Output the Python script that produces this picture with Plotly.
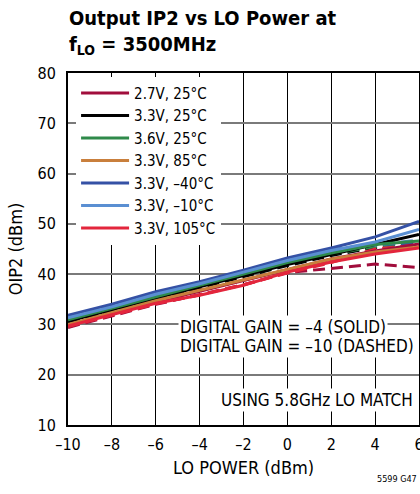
import plotly.graph_objects as go

# LO power (dBm)
lo_power = [-10, -8, -6, -4, -2, 0, 2, 4, 6]

# legend labels and colours, in legend order
labels = ["2.7V, 25°C", "3.3V, 25°C", "3.6V, 25°C", "3.3V, 85°C",
          "3.3V, –40°C", "3.3V, –10°C", "3.3V, 105°C"]
colors = ["#a10d3c", "#000000", "#2f8a4a", "#c97f3c",
          "#3551a5", "#5a8fd2", "#e3263c"]

# OIP2 (dBm), digital gain = -4 (solid)
oip2_solid = [
    [29.9, 32.2, 34.5, 36.6, 38.7, 40.9, 43.0, 44.6, 46.0],
    [30.6, 32.9, 35.3, 37.5, 39.7, 41.9, 43.9, 45.9, 47.9],
    [30.9, 33.2, 35.6, 37.8, 40.0, 42.3, 44.2, 45.9, 46.6],
    [30.0, 32.3, 34.7, 36.8, 38.9, 41.0, 43.0, 44.4, 45.4],
    [31.8, 34.0, 36.5, 38.5, 40.8, 43.2, 45.2, 47.4, 50.5],
    [31.3, 33.5, 36.0, 38.1, 40.4, 42.7, 44.7, 46.4, 48.9],
    [29.7, 32.0, 34.2, 35.8, 37.8, 40.4, 42.4, 44.0, 45.2],
]

# OIP2 (dBm), digital gain = -10 (dashed)
oip2_dashed = [
    [29.4, 31.7, 34.0, 35.9, 37.9, 40.3, 41.2, 42.0, 41.3],
    [30.5, 32.8, 35.1, 37.3, 39.5, 41.7, 43.7, 45.3, 46.5],
    [30.8, 33.1, 35.5, 37.7, 39.9, 42.1, 44.0, 45.5, 46.3],
    [29.9, 32.2, 34.6, 36.7, 38.8, 40.9, 42.8, 44.2, 45.6],
    [31.6, 33.8, 36.3, 38.3, 40.5, 42.9, 44.9, 45.9, 46.2],
    [31.2, 33.4, 35.8, 38.0, 40.2, 42.5, 44.4, 45.8, 46.8],
    [29.6, 31.9, 34.1, 35.9, 37.9, 40.2, 42.3, 45.0, 45.8],
]

x_ticks = [-10, -8, -6, -4, -2, 0, 2, 4, 6]
x_ticktext = ["–10", "–8", "–6", "–4", "–2", "0", "2", "4", "6"]
y_ticks = [10, 20, 30, 40, 50, 60, 70, 80]

FONT = "DejaVu Sans Condensed, Liberation Sans Narrow, sans-serif"

fig = go.Figure()

for i in range(len(labels)):
    fig.add_trace(go.Scatter(x=lo_power, y=oip2_dashed[i], mode="lines",
                             line=dict(color=colors[i], width=3, dash="12px,6px"),
                             legendgroup=labels[i], showlegend=False))
for i in range(len(labels)):
    fig.add_trace(go.Scatter(x=lo_power, y=oip2_solid[i], mode="lines", name=labels[i],
                             line=dict(color=colors[i], width=3),
                             legendgroup=labels[i]))

fig.update_layout(
    width=420, height=494,
    margin=dict(l=68, r=1, t=73, b=69),
    paper_bgcolor="white", plot_bgcolor="white",
    font=dict(family=FONT, size=15, color="black"),
    showlegend=True,
    legend=dict(x=0.023, y=0.989, xanchor="left", yanchor="top",
                bgcolor="white", borderwidth=0, font=dict(size=15),
                itemwidth=48, traceorder="normal"),
)

fig.update_xaxes(range=[-10, 6], tickvals=x_ticks, ticktext=x_ticktext,
                 tickfont=dict(size=16), ticklabeloverflow="allow",
                 showgrid=True, gridcolor="black", gridwidth=1,
                 showline=True, linecolor="black", linewidth=2, mirror=True,
                 zeroline=False, ticks="", ticklabelstandoff=4, automargin=False,
                 title=dict(text="LO POWER (dBm)", standoff=8))
fig.update_yaxes(range=[10, 80], tickvals=y_ticks,
                 tickfont=dict(size=16),
                 showgrid=True, gridcolor="#7a7a7a", gridwidth=2,
                 showline=True, linecolor="black", linewidth=2, mirror=True,
                 zeroline=False, ticks="", ticklabelstandoff=7, automargin=False,
                 title=dict(text="OIP2 (dBm)", standoff=10))

fig.add_annotation(text="<b>Output IP2 vs LO Power at<br>f<sub>LO</sub> = 3500MHz</b>",
                   xref="paper", yref="paper", x=0, y=1.193,
                   xanchor="left", yanchor="top", align="left",
                   showarrow=False, borderpad=0, font=dict(size=20))
fig.add_annotation(text="DIGITAL GAIN = –4 (SOLID)",
                   xref="paper", yref="paper", x=0.313, y=0.278,
                   xanchor="left", yanchor="middle", align="left",
                   showarrow=False, bgcolor="white", font=dict(size=17))
fig.add_annotation(text="DIGITAL GAIN = –10 (DASHED)",
                   xref="paper", yref="paper", x=0.313, y=0.224,
                   xanchor="left", yanchor="middle", align="left",
                   showarrow=False, bgcolor="white", font=dict(size=17))
fig.add_annotation(text="USING 5.8GHz LO MATCH",
                   xref="paper", yref="paper", x=0.99, y=0.071,
                   xanchor="right", yanchor="middle",
                   showarrow=False, bgcolor="white", font=dict(size=17))
fig.add_annotation(text="5599 G47",
                   xref="paper", yref="paper", x=1.0, y=-0.153,
                   xanchor="right", yanchor="middle",
                   showarrow=False, font=dict(size=9))

# drop the page's default body margin so the figure fills the window
fig.write_html("out.html", config={"displayModeBar": False},
               post_script="document.body.style.margin='0';")
